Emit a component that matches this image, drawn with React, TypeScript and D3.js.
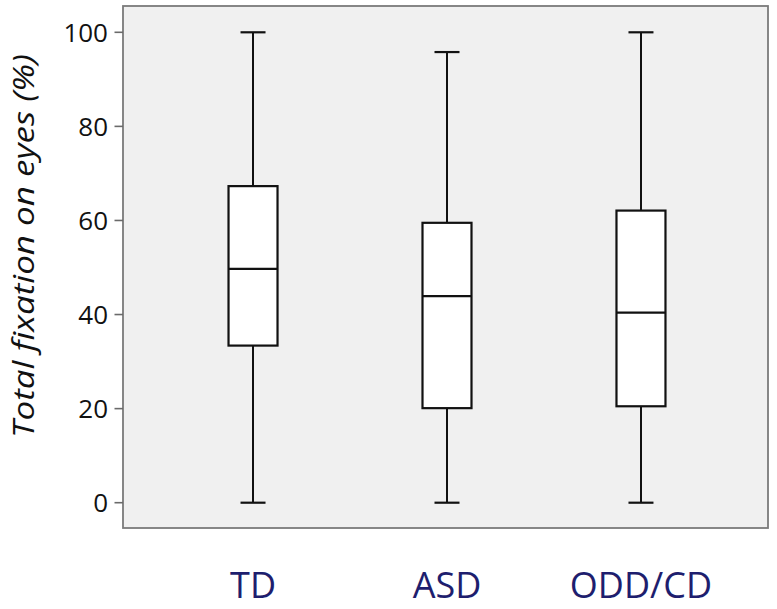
import React from "react";
import * as d3 from "d3";

const categories = ["TD", "ASD", "ODD/CD"];
const minValues = [0, 0, 0];
const q1Values = [33.4, 20.1, 20.5];
const medianValues = [49.7, 43.9, 40.4];
const q3Values = [67.3, 59.5, 62.1];
const maxValues = [100, 95.8, 100];
const yTicks = [0, 20, 40, 60, 80, 100];

const W = 777;
const H = 609;
const plot = { left: 123, right: 768, top: 6, bottom: 528 };

export default function App() {
  const y = d3.scaleLinear().domain([0, 100]).range([502.7, 32.3]);
  const x = d3.scalePoint<string>().domain(categories).range([125, 769]).padding(0.66);
  const boxW = 49;
  const capW = 25;
  const font = "'Open Sans', sans-serif";

  return (
    <svg width={W} height={H} style={{ position: "absolute", left: 0, top: 0, background: "#fff" }}>
      <rect
        x={plot.left}
        y={plot.top}
        width={plot.right - plot.left}
        height={plot.bottom - plot.top}
        fill="#f0f0f0"
        stroke="#7a7a7a"
        strokeWidth={1.8}
      />
      {yTicks.map((t) => (
        <g key={t}>
          <line x1={114.5} x2={plot.left} y1={y(t)} y2={y(t)} stroke="#6a6a6a" strokeWidth={1.6} />
          <text
            x={108}
            y={y(t)}
            dy="0.36em"
            textAnchor="end"
            fontFamily={font}
            fontSize={26}
            fill="#111"
          >
            {t}
          </text>
        </g>
      ))}
      {categories.map((c, i) => {
        const cx = x(c) as number;
        return (
          <g key={c}>
            <line x1={cx} x2={cx} y1={y(maxValues[i])} y2={y(q3Values[i])} stroke="#111" strokeWidth={2} />
            <line x1={cx} x2={cx} y1={y(q1Values[i])} y2={y(minValues[i])} stroke="#111" strokeWidth={2} />
            <line x1={cx - capW / 2} x2={cx + capW / 2} y1={y(maxValues[i])} y2={y(maxValues[i])} stroke="#111" strokeWidth={2.2} />
            <line x1={cx - capW / 2} x2={cx + capW / 2} y1={y(minValues[i])} y2={y(minValues[i])} stroke="#111" strokeWidth={2.2} />
            <rect
              x={cx - boxW / 2}
              y={y(q3Values[i])}
              width={boxW}
              height={y(q1Values[i]) - y(q3Values[i])}
              fill="#fff"
              stroke="#111"
              strokeWidth={2.2}
            />
            <line x1={cx - boxW / 2} x2={cx + boxW / 2} y1={y(medianValues[i])} y2={y(medianValues[i])} stroke="#111" strokeWidth={2.2} />
            <text
              x={cx}
              y={598}
              textAnchor="middle"
              fontFamily={font}
              fontSize={36}
              fill="#1e1e6e"
            >
              {c}
            </text>
          </g>
        );
      })}
      <text
        transform={`translate(34, 246) rotate(-90)`}
        textAnchor="middle"
        fontFamily={font}
        fontStyle="italic"
        fontSize={29}
        fill="#111"
        textLength={384}
        lengthAdjust="spacingAndGlyphs"
      >
        Total fixation on eyes (%)
      </text>
    </svg>
  );
}
